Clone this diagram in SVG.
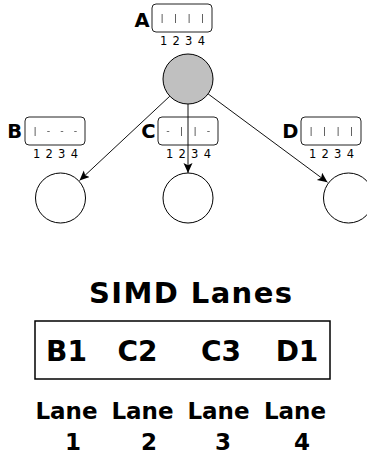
<svg xmlns="http://www.w3.org/2000/svg" width="367" height="455" viewBox="0 0 367 455">
<style>
.lbl{font-family:"DejaVu Sans","Liberation Sans",sans-serif;font-weight:bold;fill:#000}
.box{fill:#fff;stroke:#222;stroke-width:1}
.mask{font-family:"DejaVu Sans","Liberation Sans",sans-serif;font-size:9.5px;fill:#3a3a3a;text-anchor:middle;filter:url(#gray)}
.num{font-family:"DejaVu Sans","Liberation Sans",sans-serif;font-size:11.5px;fill:#000;text-anchor:middle}
.node{stroke:#000;stroke-width:1}
.edge{stroke:#111;stroke-width:1;fill:none;marker-end:url(#arr)}
.big{font-family:"DejaVu Sans","Liberation Sans",sans-serif;font-weight:bold;fill:#000;text-anchor:middle}
</style>
<defs>
<marker id="arr" markerUnits="userSpaceOnUse" markerWidth="11" markerHeight="10" refX="10" refY="4.5" orient="auto">
<path d="M0,0 L10,4.5 L0,9 L2.2,4.5 z" fill="#000"/>
</marker>
<filter id="gray" x="-10%" y="-50%" width="120%" height="200%"><feOffset dx="0" dy="0"/></filter>
</defs>
<g id="nodeA">
<text class="lbl" x="149.5" y="26.5" font-size="19.5" text-anchor="end">A</text>
<rect class="box" x="152" y="4" width="60" height="28" rx="4"/>
<text class="mask" y="21"><tspan x="162">|</tspan><tspan x="175.5">|</tspan><tspan x="189">|</tspan><tspan x="202.5">|</tspan></text>
<text class="num" x="182.5" y="45" textLength="45" lengthAdjust="spacing">1 2 3 4</text>
<circle class="node" cx="188" cy="79" r="25" fill="#c0c0c0"/>
</g>
<g id="nodeB">
<text class="lbl" x="22" y="138" font-size="19.5" text-anchor="end">B</text>
<rect class="box" x="25" y="117" width="60" height="28" rx="4"/>
<text class="mask" y="134"><tspan x="35">|</tspan><tspan x="48.5">-</tspan><tspan x="62">-</tspan><tspan x="75.5">-</tspan></text>
<text class="num" x="55.5" y="158" textLength="45" lengthAdjust="spacing">1 2 3 4</text>
<circle class="node" cx="60.5" cy="198" r="25" fill="#fff"/>
</g>
<g id="nodeC">
<text class="lbl" x="155.5" y="138" font-size="19.5" text-anchor="end">C</text>
<rect class="box" x="158" y="117" width="60" height="28" rx="4"/>
<text class="mask" y="134"><tspan x="168">-</tspan><tspan x="181.5">|</tspan><tspan x="195">|</tspan><tspan x="208.5">-</tspan></text>
<text class="num" x="188.5" y="158" textLength="45" lengthAdjust="spacing">1 2 3 4</text>
<circle class="node" cx="188" cy="198" r="25" fill="#fff"/>
</g>
<g id="nodeD">
<text class="lbl" x="298.5" y="138" font-size="19.5" text-anchor="end">D</text>
<rect class="box" x="301" y="117" width="60" height="28" rx="4"/>
<text class="mask" y="134"><tspan x="311">|</tspan><tspan x="324.5">|</tspan><tspan x="338">|</tspan><tspan x="351.5">|</tspan></text>
<text class="num" x="331.5" y="158" textLength="45" lengthAdjust="spacing">1 2 3 4</text>
<circle class="node" cx="348.5" cy="198" r="25" fill="#fff"/>
</g>
<g id="connectors">
<line class="edge" x1="169.8" y1="96.2" x2="79.5" y2="180.5"/>
<line class="edge" x1="188" y1="104" x2="188" y2="173"/>
<line class="edge" x1="208.1" y1="93.9" x2="327.5" y2="182.3"/>
</g>
<g id="simd">
<text class="big" x="190.5" y="303" font-size="29" textLength="203" lengthAdjust="spacing">SIMD Lanes</text>
<rect x="35" y="321" width="295" height="58" fill="#fff" stroke="#000" stroke-width="1.5"/>
<text class="big" x="66.5" y="361" font-size="28">B1</text>
<text class="big" x="137.5" y="361" font-size="28">C2</text>
<text class="big" x="221" y="361" font-size="28">C3</text>
<text class="big" x="297" y="361" font-size="28">D1</text>
<text class="big" x="66.5" y="419" font-size="23">Lane</text>
<text class="big" x="142.5" y="419" font-size="23">Lane</text>
<text class="big" x="218.5" y="419" font-size="23">Lane</text>
<text class="big" x="295" y="419" font-size="23">Lane</text>
<text class="big" x="73" y="450" font-size="23">1</text>
<text class="big" x="149" y="450" font-size="23">2</text>
<text class="big" x="223" y="450" font-size="23">3</text>
<text class="big" x="302" y="450" font-size="23">4</text>
</g>
</svg>
